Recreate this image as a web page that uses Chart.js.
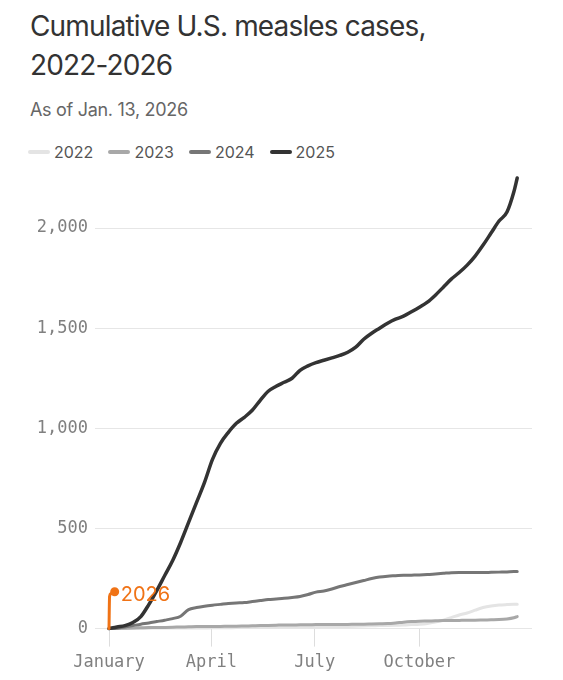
<!DOCTYPE html>
<html>
<head>
<meta charset="utf-8">
<script src="https://cdn.jsdelivr.net/npm/chart.js@4.4.1/dist/chart.umd.min.js"></script>
<style>
  html, body { margin: 0; padding: 0; background: #fff; }
  #wrap { position: relative; width: 563px; height: 680px; overflow: hidden; }
  #head { position: absolute; left: 30px; top: 7px; font-family: Inter, "Noto Sans", sans-serif; }
  #head h1 { margin: 0; font-size: 28px; font-weight: 400; line-height: 39px; color: #333; letter-spacing: -0.85px; }
  #head p { margin: 14px 0 0 0; font-size: 18px; color: #666; letter-spacing: -0.3px; }
  #legend { position: absolute; left: 28px; top: 142px; display: flex; align-items: center;
            font-family: Inter, "Noto Sans", sans-serif; font-size: 16px; color: #555; }
  #legend .item { display: flex; align-items: center; margin-right: 15px; }
  #legend .swatch { width: 22px; height: 4px; border-radius: 2px; margin-right: 4px; }
  canvas { position: absolute; left: 0; top: 0; }
</style>
</head>
<body>
<div id="wrap">
  <div id="head">
    <h1>Cumulative U.S. measles cases,<br>2022-2026</h1>
    <p>As of Jan. 13, 2026</p>
  </div>
  <div id="legend"></div>
  <canvas id="myChart" width="563" height="680"></canvas>
</div>
<script>
// day of year for each weekly reading
const weekDays = [0, 7, 14, 21, 28, 35, 42, 49, 56, 63, 70, 77, 84, 91, 98, 105, 112, 119, 126, 133,
    140, 147, 154, 161, 168, 175, 182, 189, 196, 203, 210, 217, 224, 231, 238, 245, 252, 259, 266, 273,
    280, 287, 294, 301, 308, 315, 322, 329, 336, 343, 350, 356, 359];

const cases2022 = [0, 0, 1, 1, 2, 2, 3, 3, 3, 3, 3, 3, 3, 4, 4, 4, 5, 5, 6, 6,
    7, 7, 8, 8, 8, 9, 9, 10, 10, 10, 11, 12, 13, 14, 15, 16, 17, 18, 20, 22,
    26, 33, 42, 55, 68, 78, 92, 105, 113, 118, 120, 121, 121];
const cases2023 = [0, 1, 2, 3, 4, 5, 5, 6, 7, 8, 9, 10, 10, 11, 11, 12, 12, 13, 14, 15,
    16, 17, 18, 18, 19, 19, 20, 20, 20, 21, 21, 22, 22, 23, 24, 25, 28, 32, 35, 37,
    38, 39, 40, 40, 41, 42, 42, 43, 44, 45, 48, 54, 60];
const cases2024 = [0, 2, 8, 15, 22, 28, 35, 42, 50, 62, 95, 105, 112, 117, 121, 125, 128, 130, 135, 140,
    145, 148, 151, 155, 160, 170, 182, 188, 198, 210, 220, 230, 240, 250, 258, 262, 264, 266, 267, 268,
    270, 273, 276, 279, 280, 280, 280, 280, 281, 282, 283, 285, 285];
const cases2025 = [0, 8, 15, 30, 60, 120, 190, 265, 340, 430, 530, 630, 730, 845, 925, 980, 1025, 1055, 1090, 1140,
    1185, 1210, 1230, 1250, 1290, 1312, 1328, 1340, 1352, 1364, 1380, 1405, 1445, 1475, 1500, 1525, 1545, 1560, 1582, 1605,
    1630, 1665, 1705, 1745, 1778, 1815, 1860, 1915, 1975, 2035, 2080, 2180, 2250];

const days2026 = [0, 0.5, 1.5, 5];
const cases2026 = [0, 160, 174, 184];

const monthDays = [0, 90, 181, 273];
const monthLabels = ['January', 'April', 'July', 'October'];
const yTickValues = [0, 500, 1000, 1500, 2000];

const toPoints = (xs, ys) => xs.map((x, i) => ({ x: x, y: ys[i] }));

// writes "2026" next to the last orange point
const label2026 = {
    id: 'label2026',
    afterDatasetsDraw(chart) {
        const meta = chart.getDatasetMeta(4);
        const last = meta.data[meta.data.length - 1];
        const ctx = chart.ctx;
        ctx.save();
        ctx.font = '20px Inter, "Noto Sans", sans-serif';
        ctx.fillStyle = '#f07316';
        ctx.textBaseline = 'middle';
        ctx.fillText('2026', last.x + 6, last.y + 3);
        ctx.restore();
    }
};

const lineSet = (label, data, color, width, order) => ({
    label: label,
    data: data,
    borderColor: color,
    backgroundColor: color,
    borderWidth: width,
    borderCapStyle: 'round',
    borderJoinStyle: 'round',
    pointRadius: 0,
    pointHoverRadius: 0,
    cubicInterpolationMode: 'monotone',
    clip: false,
    order: order
});

const ds2026 = lineSet('2026', toPoints(days2026, cases2026), '#f07316', 3, 0);
ds2026.pointRadius = [0, 0, 0, 3];

let measlesChart = new Chart(document.getElementById('myChart'), {
    type: 'line',
    data: {
        datasets: [
            lineSet('2022', toPoints(weekDays, cases2022), '#e4e4e4', 3, 4),
            lineSet('2023', toPoints(weekDays, cases2023), '#a8a8a8', 3, 3),
            lineSet('2024', toPoints(weekDays, cases2024), '#767676', 3, 2),
            lineSet('2025', toPoints(weekDays, cases2025), '#333333', 3.5, 1),
            ds2026
        ]
    },
    plugins: [label2026],
    options: {
        responsive: false,
        animation: false,
        events: [],
        layout: {
            padding: { left: 16, right: 31, top: 178, bottom: 1 }
        },
        plugins: {
            tooltip: { enabled: false },
            legend: { display: false }
        },
        scales: {
            x: {
                type: 'linear',
                min: 0,
                max: 372,
                afterBuildTicks: (scale) => {
                    scale.ticks = monthDays.map(v => ({ value: v }));
                },
                ticks: {
                    autoSkip: false,
                    maxRotation: 0,
                    padding: 6,
                    color: '#808080',
                    font: { family: '"DejaVu Sans Mono", monospace', size: 17 },
                    callback: (value, index) => monthLabels[index]
                },
                grid: {
                    drawOnChartArea: false,
                    tickLength: 18,
                    color: '#dddddd'
                },
                border: { display: false }
            },
            y: {
                min: 0,
                max: 2250,
                afterFit: (scale) => { scale.width = 93; },
                afterBuildTicks: (scale) => {
                    scale.ticks = yTickValues.map(v => ({ value: v }));
                },
                ticks: {
                    padding: 7,
                    color: '#808080',
                    font: { family: '"DejaVu Sans Mono", monospace', size: 17 },
                    callback: (value) => value.toLocaleString('en-US')
                },
                grid: {
                    color: '#e6e6e6',
                    tickLength: 14
                },
                border: { display: false }
            }
        }
    }
});

// legend built from the datasets (2026 is labelled on the chart instead)
const legendBox = document.getElementById('legend');
measlesChart.data.datasets.filter(d => d.label !== '2026').forEach(d => {
    const item = document.createElement('div');
    item.className = 'item';
    const sw = document.createElement('span');
    sw.className = 'swatch';
    sw.style.background = d.borderColor;
    const txt = document.createElement('span');
    txt.textContent = d.label;
    item.appendChild(sw);
    item.appendChild(txt);
    legendBox.appendChild(item);
});
</script>
</body>
</html>
